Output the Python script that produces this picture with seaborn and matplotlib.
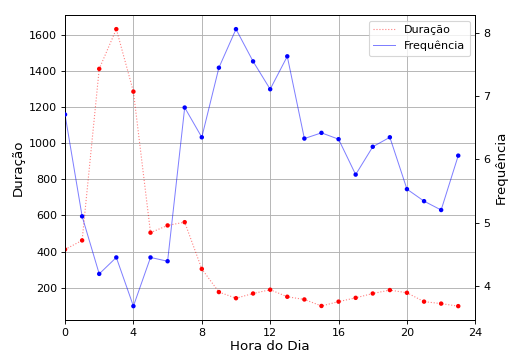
import matplotlib
matplotlib.use("Agg")
import matplotlib.pyplot as plt
import seaborn as sns
import pandas as pd

# Average call duration and frequency per hour of the day
horas = list(range(24))
duracao = [412, 462, 1412, 1632, 1286, 505, 545, 563, 304, 176, 142, 168,
           189, 150, 135, 99, 123, 144, 168, 187, 172, 123, 112, 98]
frequencia = [6.71, 5.10, 4.19, 4.45, 3.68, 4.45, 4.39, 6.82, 6.35, 7.45, 8.06, 7.55,
              7.11, 7.63, 6.33, 6.42, 6.32, 5.76, 6.20, 6.35, 5.53, 5.34, 5.20, 6.06]
x_ticks = [0, 4, 8, 12, 16, 20, 24]

df = pd.DataFrame({"hora": horas, "duracao": duracao, "frequencia": frequencia})

fig = plt.figure(figsize=(508 / 80, 353 / 80), dpi=80)
ax = fig.add_axes([0.128, 0.0935, 0.8077, 0.8632])
ax2 = ax.twinx()

sns.lineplot(data=df, x="hora", y="duracao", ax=ax, color="red", alpha=0.5,
             linestyle=":", linewidth=1, label="Duração", legend=False)
sns.scatterplot(data=df, x="hora", y="duracao", ax=ax, color="red", s=16,
                edgecolor="none", legend=False, zorder=3)

sns.lineplot(data=df, x="hora", y="frequencia", ax=ax2, color="blue", alpha=0.5,
             linewidth=0.9, label="Frequência", legend=False)
sns.scatterplot(data=df, x="hora", y="frequencia", ax=ax2, color="blue", s=16,
                edgecolor="none", legend=False, zorder=3)

ax.set_xlim(0, 24)
ax.set_xticks(x_ticks)
ax.set_yticks([200, 400, 600, 800, 1000, 1200, 1400, 1600])
ax2.set_yticks([4, 5, 6, 7, 8])
ax.grid(True, color="#b0b0b0", linewidth=0.8)
ax.set_axisbelow(True)

ax.set_xlabel("Hora do Dia", fontsize=12, labelpad=2)
ax.set_ylabel("Duração", fontsize=12)
ax2.set_ylabel("Frequência", fontsize=12)
ax.tick_params(labelsize=10)
ax2.tick_params(labelsize=10)

h1, l1 = ax.get_legend_handles_labels()
h2, l2 = ax2.get_legend_handles_labels()
ax2.legend(h1 + h2, l1 + l2, loc="upper right", fontsize=10)

fig.savefig("out.png", dpi=80)
